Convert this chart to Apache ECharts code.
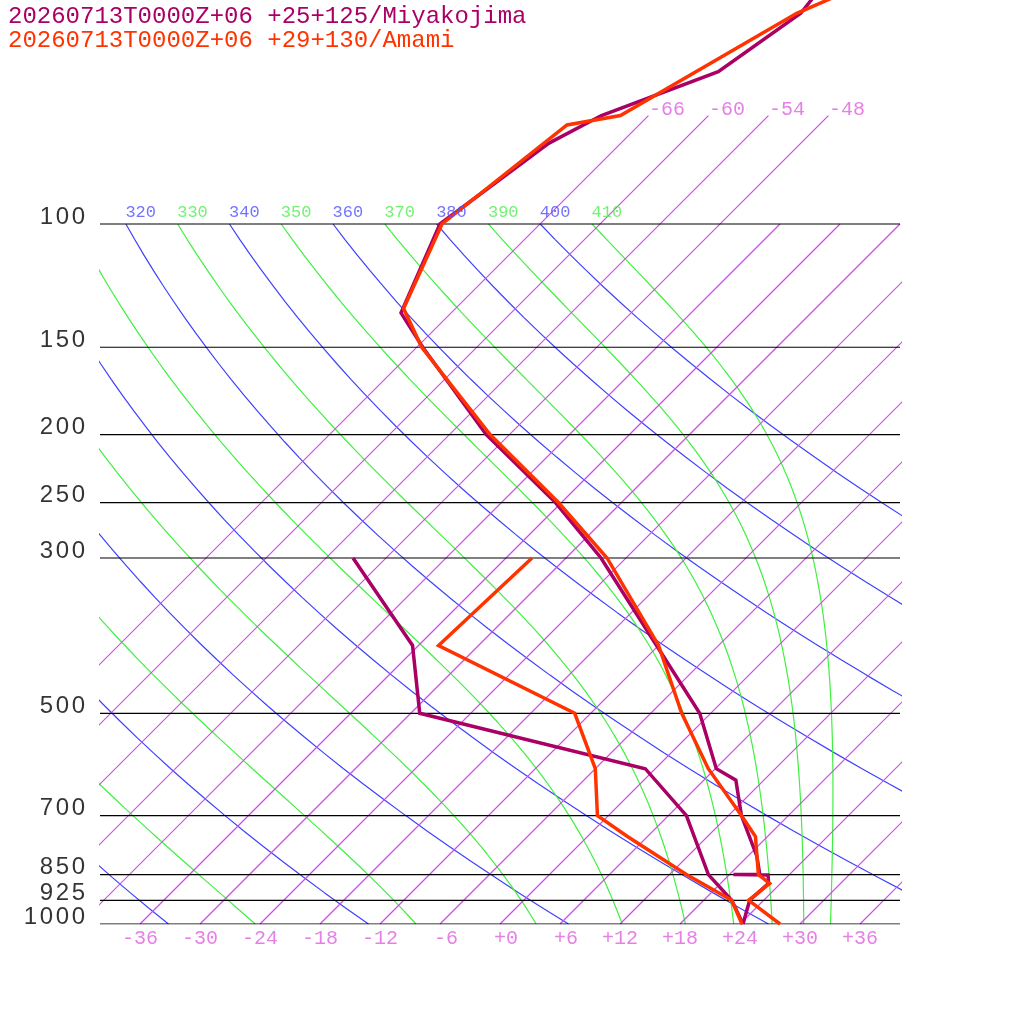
<!DOCTYPE html>
<html>
<head>
<meta charset="utf-8">
<script src="https://cdn.jsdelivr.net/npm/echarts@6/dist/echarts.min.js"></script>
<style>
  html, body { margin: 0; padding: 0; background: #fff; }
  #chart { width: 1024px; height: 1024px; }
</style>
</head>
<body>
<div id="chart"></div>
<script>
// station headers
const titleMiyakojima = '20260713T0000Z+06 +25+125/Miyakojima'
const titleAmami = '20260713T0000Z+06 +29+130/Amami'

// pressure levels (hPa) with black isobars + labels
const isobarLevels = [100, 150, 200, 250, 300, 500, 700, 850, 925, 1000]
// isotherms (degC); the coldest ones run up to 70 hPa
const isotherms = [-66, -60, -54, -48, -42, -36, -30, -24, -18, -12, -6, 0, 6, 12, 18, 24, 30, 36]
const isothermsHigh = [-66, -60, -54, -48]
const bottomTempTicks = [-36, -30, -24, -18, -12, -6, 0, 6, 12, 18, 24, 30, 36]
// dry adiabats (blue) and moist adiabats (green), potential temperature in K
const dryThetas = [200, 220, 240, 260, 280, 300, 320, 340, 360, 380, 400]
const moistThetas = [250, 270, 290, 310, 330, 350, 370, 390, 410]

// Miyakojima sounding (purple)
const miyaTempP = [1000, 925, 875, 851, 850, 849, 800, 700, 623, 600, 500, 400, 300, 250, 200, 150, 134, 100, 76.7, 70, 60.6, 50, 40]
const miyaTempT = [24.3, 22.6, 22.8, 21.9, 18.4, 21.0, 18.9, 13.3, 9.2, 6.1, -1.1, -12.2, -26.5, -36.6, -50.3, -65.4, -71.0, -76.0, -73.2, -70.7, -63.4, -61.0, -62.4]
const miyaDewP = [1000, 925, 850, 700, 600, 500, 400, 300]
const miyaDewT = [24.3, 20.8, 15.9, 7.8, -1.0, -29.1, -36.6, -51.3]

// Amami sounding (red)
const amamiTempP = [1000, 925, 875, 850, 750, 700, 600, 500, 400, 300, 250, 200, 150, 132, 100, 72.2, 70, 50, 40]
const amamiTempT = [28.0, 22.5, 22.9, 20.9, 16.8, 13.3, 5.3, -2.9, -12.0, -25.9, -36.3, -49.9, -65.5, -71.2, -75.8, -73.2, -68.8, -61.4, -52.5]
const amamiDewP = [1000, 925, 850, 750, 700, 600, 500, 400, 300]
const amamiDewT = [24.2, 20.8, 13.7, 4.0, -1.1, -6.0, -13.6, -34.0, -33.4]

const PURPLE = '#aa0066'
const RED = '#ff3300'
const ISO_COLOR = '#d04ce8'
const BLUE = '#4040ff'
const GREEN = '#40f040'

// skew-T: x = T + SKEW * log10(1000/p)  (degC units at 1000 hPa)
const SKEW = 70
const X_MIN = -40, X_MAX = 40
const P_TOP = 1000 * Math.pow(10, -924 / 700)
const skewX = (t, p) => t + SKEW * Math.log10(1000 / p)

const Rd = 287.04, Cp = 1004.6, Lv = 2.501e6, EPS = 0.622
const KAPPA = Rd / Cp

function logPressures(p0, p1, n) {
  const out = []
  for (let i = 0; i <= n; i++) out.push(p0 * Math.pow(p1 / p0, i / n))
  return out
}

function dryAdiabat(theta) {
  return logPressures(1000, 100, 45).map(p => [skewX(theta * Math.pow(p / 1000, KAPPA) - 273.15, p), p])
}

// pseudo-adiabatic lapse rate dT/dlnp
function moistRate(T, p) {
  const tc = T - 273.15
  const es = 6.112 * Math.exp(17.67 * tc / (tc + 243.5))
  const rs = EPS * es / (p - es)
  return (Rd * T + Lv * rs) / (Cp + Lv * Lv * rs * EPS / (Rd * T * T))
}

// start at 100 hPa on the dry adiabat of the same theta, integrate down to 1000
function moistAdiabat(theta) {
  const n = 90
  const l0 = Math.log(100), l1 = Math.log(1000)
  const h = (l1 - l0) / n
  let T = theta * Math.pow(0.1, KAPPA)
  let l = l0
  const pts = [[skewX(T - 273.15, 100), 100]]
  for (let i = 0; i < n; i++) {
    const p = Math.exp(l)
    const k1 = moistRate(T, p)
    const k2 = moistRate(T + h * k1 / 2, Math.exp(l + h / 2))
    const k3 = moistRate(T + h * k2 / 2, Math.exp(l + h / 2))
    const k4 = moistRate(T + h * k3, Math.exp(l + h))
    T += h * (k1 + 2 * k2 + 2 * k3 + k4) / 6
    l += h
    const pn = Math.exp(l)
    pts.push([skewX(T - 273.15, pn), pn])
  }
  return pts
}

function lineSeries(data, color, width, z, join) {
  return {
    type: 'line',
    data: data,
    symbol: 'none',
    silent: true,
    z: z,
    color: color,
    itemStyle: { color: color },
    lineStyle: { color: color, width: width, join: join || 'bevel', miterLimit: 20 },
    animation: false
  }
}

function profile(P, T) {
  return P.map((p, i) => [skewX(T[i], p), p])
}

function labelSeries(data, label) {
  return {
    type: 'scatter',
    data: data,
    symbolSize: 1,
    itemStyle: { color: 'rgba(0,0,0,0)' },
    clip: false,
    silent: true,
    animation: false,
    z: 20,
    label: Object.assign({ show: true }, label)
  }
}

const signed = t => (t > 0 ? '+' + t : t === 0 ? '+0' : String(t))

const series = []

isobarLevels.forEach(p => series.push(lineSeries([[X_MIN, p], [X_MAX, p]], '#000', 1.2, 5)))

isotherms.forEach(t => {
  const top = isothermsHigh.includes(t) ? 70 : 100
  series.push(lineSeries([[skewX(t, 1000), 1000], [skewX(t, top), top]], ISO_COLOR, 1.2, 3))
})

dryThetas.forEach(th => series.push(lineSeries(dryAdiabat(th), BLUE, 1.2, 2)))
moistThetas.forEach(th => series.push(lineSeries(moistAdiabat(th), GREEN, 1.2, 2)))

series.push(lineSeries(profile(miyaDewP, miyaDewT), PURPLE, 3.5, 10, 'miter'))
series.push(lineSeries(profile(miyaTempP, miyaTempT), PURPLE, 3.5, 10, 'miter'))
series.push(lineSeries(profile(amamiDewP, amamiDewT), RED, 3.5, 11, 'miter'))
series.push(lineSeries(profile(amamiTempP, amamiTempT), RED, 3.5, 11, 'miter'))

// pressure labels, spaced out digit by digit
series.push(labelSeries(isobarLevels.map(p => ({ value: [X_MIN, p], name: String(p) })), {
  position: 'left',
  distance: 13,
  offset: [0, -7],
  formatter: prm => prm.name.split('').map(c => '{d|' + c + '}').join(''),
  rich: { d: { fontFamily: 'Liberation Sans', fontSize: 24, color: '#000', width: 16, align: 'center' } }
}))

// temperature labels along the bottom
series.push(labelSeries(bottomTempTicks.map(t => ({ value: [skewX(t, 1000), 1000], name: signed(t).padStart(3, ' ') })), {
  position: 'bottom',
  distance: 4,
  formatter: prm => prm.name,
  fontFamily: 'Liberation Mono',
  fontSize: 20,
  color: '#e060e0'
}))

// labels at the top end of the high isotherms
series.push(labelSeries(isothermsHigh.map(t => ({ value: [skewX(t, 70), 70], name: String(t) })), {
  position: 'right',
  distance: 0,
  offset: [0, -6],
  formatter: prm => prm.name,
  fontFamily: 'Liberation Mono',
  fontSize: 20,
  color: '#e060e0'
}))

// theta labels above the 100 hPa line
function thetaLabels(list, color) {
  const data = list
    .map(th => ({ value: [skewX(th * Math.pow(0.1, KAPPA) - 273.15, 100), 100], name: String(th) }))
    .filter(d => d.value[0] >= X_MIN && d.value[0] <= X_MAX)
  return labelSeries(data, {
    position: 'right',
    distance: 0,
    offset: [-1, -12],
    formatter: prm => prm.name,
    fontFamily: 'Liberation Mono',
    fontSize: 17,
    color: color
  })
}
series.push(thetaLabels(dryThetas, '#5050ff'))
series.push(thetaLabels(moistThetas, '#50ee50'))

const chart = echarts.init(document.getElementById('chart'))
chart.setOption({
  animation: false,
  backgroundColor: '#fff',
  title: [
    { text: titleMiyakojima, left: 8, top: 5, padding: 0, textStyle: { fontFamily: 'Liberation Mono', fontSize: 24, fontWeight: 'normal', color: PURPLE } },
    { text: titleAmami, left: 8, top: 29, padding: 0, textStyle: { fontFamily: 'Liberation Mono', fontSize: 24, fontWeight: 'normal', color: RED } }
  ],
  grid: { left: 100, right: 124, top: 0, bottom: 100 },
  xAxis: { type: 'value', min: X_MIN, max: X_MAX, show: false },
  yAxis: { type: 'log', logBase: 10, min: P_TOP, max: 1000, inverse: true, show: false },
  series: series
})
</script>
</body>
</html>
